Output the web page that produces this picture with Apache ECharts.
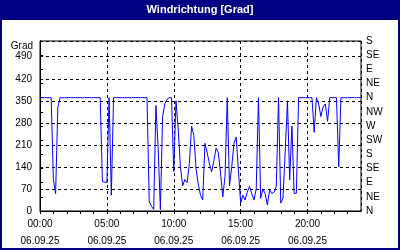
<!DOCTYPE html>
<html><head><meta charset="utf-8">
<script src="https://cdn.jsdelivr.net/npm/echarts@6/dist/echarts.min.js"></script>
<style>html,body{margin:0;padding:0;background:#fff}#c{width:400px;height:250px}</style>
</head><body><div id="c"></div>
<script>
// 10-minute samples from 00:00 to 24:00, 06.09.25
const stepMinutes = 10;
const windDir = [
  360,360,360,360,360,360,100,55,330,
  360,360,360,360,360,360,360,360,360,360,360,360,360,360,360,360,360,360,
  360,93,92,90,360,50,360,
  360,360,360,360,360,360,360,360,360,360,360,360,360,360,360,
  30,15,5,335,200,5,300,340,355,360,360,125,350,260,140,80,100,90,150,270,240,135,85,50,35,
  215,185,150,125,160,200,185,120,45,110,360,80,140,215,235,130,
  25,50,35,60,78,55,35,70,360,40,70,55,19,67,55,60,78,
  360,25,40,190,350,99,270,56,56,360,
  360,360,360,360,360,360,250,360,340,300,330,340,285,
  360,360,360,360,140,360,360,360,360,360,360,360,360,360,360
];
const hourLabels = ['00:00','05:00','10:00','15:00','20:00'];
const hourLabelValues = [0,5,10,15,20];
const dateLabel = '06.09.25';
const compass = ['N','NE','E','SE','S','SW','W','NW','N','NE','E','SE','S'];
const titleText = 'Windrichtung [Grad]';
const unitText = 'Grad';

const FONT = '"Liberation Sans", Arial, sans-serif';
const data = windDir.map((v, i) => [i * stepMinutes / 60, v]);

const chart = echarts.init(document.getElementById('c'), null, {renderer: 'canvas'});
chart.setOption({
  animation: false,
  backgroundColor: '#fff',
  graphic: [
    {type: 'rect', shape: {x: 0, y: 0, width: 400, height: 20}, style: {fill: '#000080'}, z: 100},
    {type: 'rect', shape: {x: 1, y: 1, width: 398, height: 248}, style: {fill: 'none', stroke: '#000080', lineWidth: 2}, z: 100},
    {type: 'text', x: 200, y: 10, z: 101, style: {text: titleText, fill: '#fff', font: 'bold 11px ' + FONT, align: 'center', verticalAlign: 'middle'}},
    {type: 'text', x: 33, y: 46, z: 101, style: {text: unitText, fill: '#000', font: '10px ' + FONT, align: 'right', verticalAlign: 'middle'}}
  ],
  grid: {left: 40, right: 39, top: 41, bottom: 39, show: true, borderColor: '#000', borderWidth: 1, backgroundColor: '#fff'},
  xAxis: [
    {
      type: 'value', min: 0, max: 24, interval: 1,
      axisLine: {show: true, lineStyle: {color: '#000', width: 1}},
      axisTick: {show: true, length: 3, lineStyle: {color: '#000'}},
      splitLine: {show: false},
      axisLabel: {
        color: '#000', fontSize: 10, fontFamily: FONT, lineHeight: 17, margin: 5,
        showMaxLabel: false,
        formatter: function (v) {
          const k = hourLabelValues.indexOf(v);
          return k >= 0 ? hourLabels[k] + '\n' + dateLabel : '';
        }
      }
    },
    {
      type: 'value', min: 0, max: 24, interval: 5, position: 'bottom',
      axisLine: {show: false}, axisTick: {show: false}, axisLabel: {show: false},
      splitLine: {show: true, lineStyle: {color: '#000', type: [3, 3], width: 1}}
    }
  ],
  yAxis: [
    {
      type: 'value', min: 0, max: 540, interval: 70,
      axisLine: {show: true, lineStyle: {color: '#000'}},
      axisTick: {show: false},
      splitLine: {show: true, lineStyle: {color: '#000', type: [3, 3], width: 1}},
      axisLabel: {color: '#000', fontSize: 10, fontFamily: FONT, margin: 8, showMaxLabel: false,
        formatter: v => (v % 70 === 0 ? String(v) : '')}
    },
    {
      type: 'value', min: 0, max: 540, interval: 45, position: 'right',
      axisLine: {show: true, lineStyle: {color: '#000'}},
      axisTick: {show: true, length: 3, lineStyle: {color: '#000'}},
      splitLine: {show: false},
      axisLabel: {color: '#000', fontSize: 10, fontFamily: FONT, margin: 5,
        formatter: v => compass[Math.round(v / 45)]}
    }
  ],
  series: [{
    type: 'line', data: data, xAxisIndex: 0, yAxisIndex: 0,
    showSymbol: false, symbol: 'none',
    lineStyle: {color: '#0000ff', width: 1}
  }]
});
</script></body></html>
